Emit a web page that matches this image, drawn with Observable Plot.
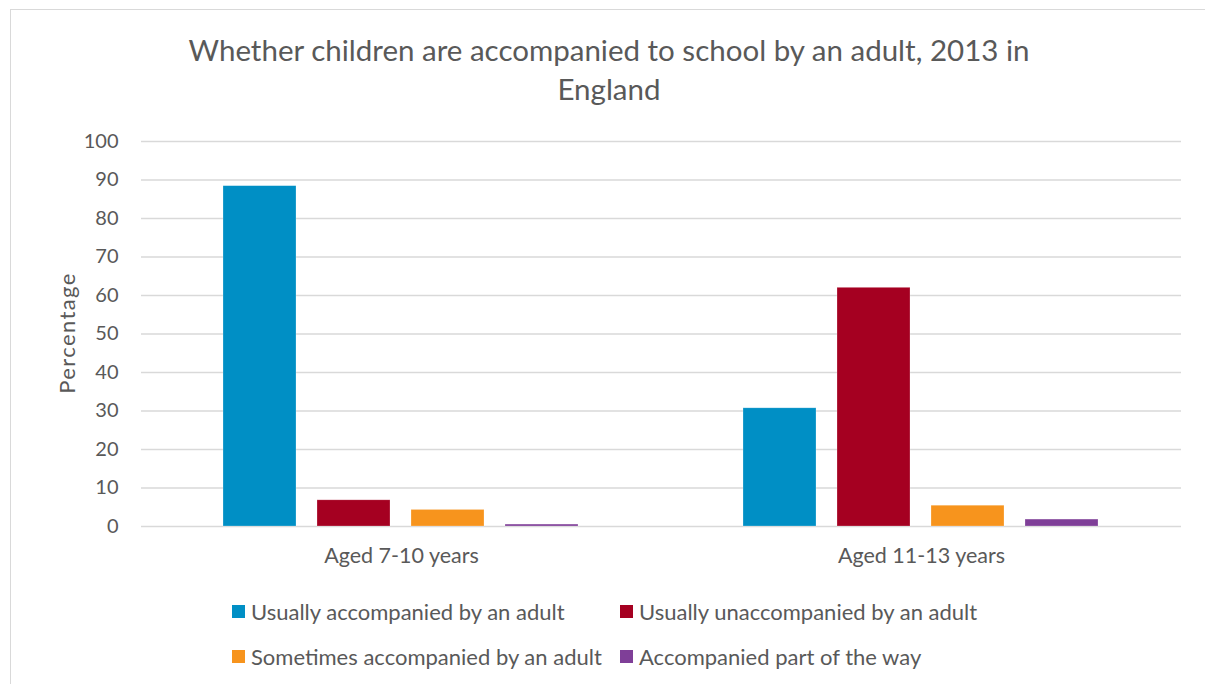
<!DOCTYPE html>
<html>
<head>
<meta charset="utf-8">
<script src="https://cdn.jsdelivr.net/npm/d3@7"></script>
<script src="https://cdn.jsdelivr.net/npm/@observablehq/plot@0.6"></script>
<style>
  html, body { margin: 0; padding: 0; background: #fff; }
  body { width: 1205px; height: 684px; position: relative; overflow: hidden; font-family: Lato, "Open Sans", sans-serif; color: #595959; }
  #frame { position: absolute; left: 10px; top: 9px; width: 1200px; height: 680px; border-top: 1px solid #d9d9d9; border-left: 1px solid #d9d9d9; }
  #title { position: absolute; left: 0; top: 30px; width: 1218px; text-align: center; font-size: 29.5px; line-height: 39px; color: #595959; }
  #chart { position: absolute; left: 0; top: 0; }
  #ylabel { position: absolute; left: 66px; top: 333px; transform: translate(-50%, -50%) rotate(-90deg); font-size: 22px; letter-spacing: 1.4px; white-space: nowrap; color: #595959; }
  #legend { position: absolute; left: 232px; top: 589px; display: grid; grid-template-columns: 388px auto; grid-auto-rows: 45px; font-size: 22px; color: #595959; }
  .item { display: flex; align-items: center; white-space: nowrap; }
  .sw { width: 13px; height: 13px; margin-right: 6px; flex: none; }
</style>
</head>
<body>
<div id="frame"></div>
<div id="title">Whether children are accompanied to school by an adult, 2013 in<br>England</div>
<div id="chart"></div>
<div id="ylabel">Percentage</div>
<div id="legend"></div>
<script>
const groups = ["Aged 7-10 years", "Aged 11-13 years"];
const series = [
  "Usually accompanied by an adult",
  "Usually unaccompanied by an adult",
  "Sometimes accompanied by an adult",
  "Accompanied part of the way"
];
const usuallyAccompanied = [88.4, 30.7];
const usuallyUnaccompanied = [6.8, 62.0];
const sometimesAccompanied = [4.3, 5.4];
const partOfTheWay = [0.5, 1.8];
const colors = ["#008FC5", "#A50021", "#F7941D", "#7F3F98"];
const yTicks = [0, 10, 20, 30, 40, 50, 60, 70, 80, 90, 100];

const valuesBySeries = [usuallyAccompanied, usuallyUnaccompanied, sometimesAccompanied, partOfTheWay];
const data = [];
groups.forEach((g, gi) => series.forEach((s, si) => data.push({group: g, series: s, value: valuesBySeries[si][gi]})));

const plot = Plot.plot({
  width: 1205,
  height: 600,
  marginLeft: 140,
  marginRight: 24,
  marginTop: 141,
  marginBottom: 74,
  style: {fontFamily: "Lato, 'Open Sans', sans-serif", fontSize: "20px", color: "#595959", background: "transparent"},
  fx: {domain: groups, padding: 0, label: null},
  x: {domain: series, paddingInner: 0.22, paddingOuter: 0.86, axis: null},
  y: {domain: [0, 100], label: null},
  color: {domain: series, range: colors},
  marks: [
    Plot.gridY(yTicks, {stroke: "#d9d9d9", strokeOpacity: 1, strokeWidth: 1.4}),
    Plot.axisY(yTicks, {tickSize: 0, tickPadding: 23, label: null, fontSize: 20, fill: "#595959"}),
    Plot.axisFx({anchor: "bottom", tickSize: 0, tickPadding: 21, label: null, fontSize: 21.5, fill: "#595959"}),
    Plot.barY(data, {fx: "group", x: "series", y: "value", fill: "series", stroke: "#ffffff", strokeOpacity: 0.4, strokeWidth: 0.6})
  ]
});
document.getElementById("chart").appendChild(plot);

const legend = document.getElementById("legend");
series.forEach((s, i) => {
  const item = document.createElement("div");
  item.className = "item";
  const sw = document.createElement("span");
  sw.className = "sw";
  sw.style.background = colors[i];
  const t = document.createElement("span");
  t.textContent = s;
  item.appendChild(sw);
  item.appendChild(t);
  legend.appendChild(item);
});
</script>
</body>
</html>
